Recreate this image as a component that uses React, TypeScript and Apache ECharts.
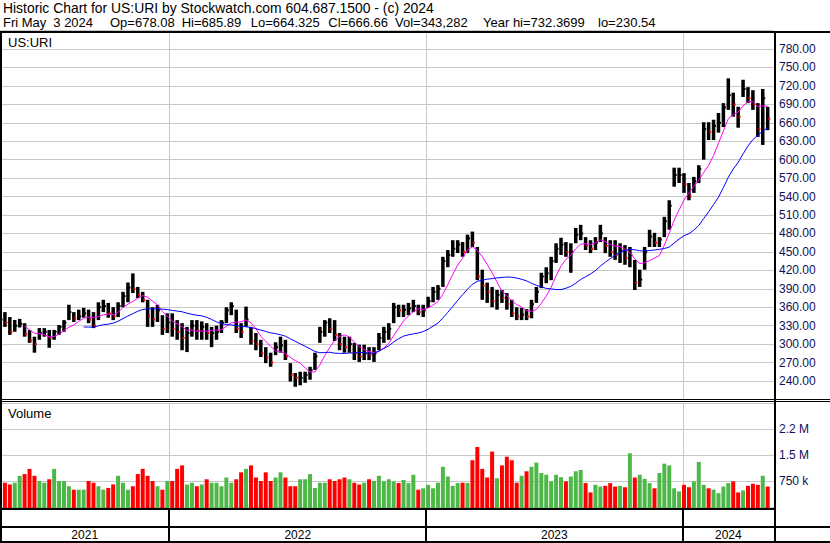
import { useEffect, useRef } from "react";
import * as echarts from "echarts";

// Weekly bars (week centres, Wednesdays) from the week of 2021-05-05 to the week of 2024-05-01
const FIRST_WEEK = Date.UTC(2021, 4, 5);
const WEEK_MS = 7 * 86400000;
const AXIS_START = Date.UTC(2021, 4, 5);
const AXIS_END = Date.UTC(2024, 4, 10);

const high = [
  356, 352, 344, 339, 341, 334, 323, 312, 326, 326,
  323, 323, 331, 339, 364, 352, 356, 359, 356, 352,
  368, 372, 367, 360, 368, 385, 400, 415, 393, 385,
  372, 360, 364, 347, 350, 350, 339, 334, 328, 339,
  339, 337, 334, 328, 330, 339, 360, 368, 356, 334,
  361, 328, 318, 307, 295, 286, 303, 312, 307, 269,
  253, 255, 255, 263, 286, 328, 339, 342, 339, 318,
  312, 312, 302, 299, 299, 295, 295, 318, 328, 334,
  367, 364, 364, 367, 372, 364, 364, 377, 393, 396,
  442, 453, 469, 469, 466, 478, 483, 458, 421, 400,
  393, 388, 388, 383, 372, 360, 359, 357, 372, 393,
  416, 425, 442, 464, 473, 466, 464, 489, 494, 474,
  469, 474, 494, 474, 469, 469, 464, 461, 458, 437,
  421, 458, 486, 481, 474, 507, 534, 587, 587, 578,
  562, 572, 591, 661, 661, 665, 676, 692, 732.37, 709,
  686, 730, 718, 713, 692, 715, 686,
];

const low = [
  331, 328, 315, 320, 327, 312, 302, 286, 307, 312,
  294, 307, 315, 320, 339, 336, 339, 343, 334, 326,
  339, 352, 343, 339, 344, 360, 368, 383, 375, 368,
  328, 328, 336, 315, 318, 312, 307, 290, 287, 312,
  307, 307, 307, 295, 307, 318, 334, 347, 318, 310,
  328, 299, 290, 279, 269, 263, 282, 286, 274, 239,
  230.54, 233, 237, 242, 258, 302, 312, 318, 305, 290,
  286, 286, 274, 271, 274, 274, 271, 290, 302, 307,
  334, 344, 344, 347, 352, 347, 344, 359, 368, 372,
  393, 425, 442, 448, 442, 448, 458, 404, 372, 367,
  360, 356, 367, 356, 344, 339, 339, 339, 342, 367,
  391, 399, 404, 432, 445, 442, 416, 464, 469, 453,
  448, 453, 466, 448, 442, 437, 432, 429, 425, 388,
  393, 421, 458, 458, 458, 474, 486, 556, 562, 546,
  534, 546, 562, 600, 632, 632, 644, 653, 681, 670,
  652, 702, 692, 681, 637, 624, 648,
];

const close = [
  340, 335, 320, 330, 333, 316, 306, 300, 318, 320,
  310, 320, 328, 335, 352, 342, 345, 350, 340, 330,
  360, 362, 350, 345, 362, 378, 392, 390, 380, 372,
  345, 340, 355, 325, 335, 325, 320, 310, 318, 330,
  322, 328, 318, 318, 320, 335, 355, 362, 325, 320,
  340, 305, 300, 285, 278, 270, 295, 298, 280, 250,
  245, 245, 250, 258, 280, 320, 335, 325, 315, 300,
  295, 300, 285, 280, 285, 282, 285, 310, 320, 325,
  360, 355, 356, 358, 362, 352, 355, 370, 385, 390,
  435, 445, 455, 462, 450, 472, 465, 410, 395, 385,
  370, 380, 375, 365, 350, 345, 348, 345, 365, 385,
  410, 415, 435, 455, 462, 450, 450, 478, 480, 460,
  455, 465, 480, 460, 450, 445, 452, 440, 445, 400,
  405, 450, 475, 465, 470, 500, 525, 575, 575, 560,
  540, 565, 585, 650, 645, 655, 660, 685, 705, 690,
  670, 715, 700, 690, 650, 700, 666.66,
];

// average daily volume per week, in thousands of shares
const volumeK = [
  730, 700, 650, 700, 900, 950, 1100, 900, 750, 700,
  800, 1100, 750, 750, 600, 500, 500, 500, 750, 700,
  600, 500, 550, 650, 900, 700, 500, 600, 950, 1100,
  900, 750, 600, 500, 750, 750, 1100, 1200, 650, 700,
  600, 650, 800, 700, 700, 600, 850, 700, 800, 1000,
  1100, 1200, 850, 750, 1000, 750, 850, 1000, 850, 600,
  600, 800, 800, 950, 550, 700, 700, 800, 750, 800,
  850, 800, 700, 650, 700, 800, 750, 900, 740, 800,
  740, 690, 780, 690, 930, 500, 540, 640, 540, 700,
  1160, 880, 610, 690, 700, 690, 1350, 1730, 1100, 850,
  1600, 830, 1200, 1450, 1350, 700, 900, 1030, 1160, 1280,
  980, 930, 740, 930, 860, 740, 880, 1030, 1070, 690,
  420, 640, 590, 610, 690, 590, 610, 570, 1550, 850,
  930, 810, 690, 540, 980, 1250, 1200, 540, 450, 640,
  570, 740, 1300, 640, 540, 500, 400, 590, 690, 740,
  420, 480, 610, 670, 640, 900, 590,
];

const yearLabels = ["2021", "2022", "2023", "2024"];
const yearStarts = [AXIS_START, Date.UTC(2022, 0, 1), Date.UTC(2023, 0, 1), Date.UTC(2024, 0, 1)];
const yearEnds = [Date.UTC(2022, 0, 1), Date.UTC(2023, 0, 1), Date.UTC(2024, 0, 1), AXIS_END];

const MA_SHORT = 6; // weeks (~30 days)
const MA_LONG = 18; // weeks (~90 days)

const FONT = "'Liberation Sans', Arial, sans-serif";
const AXIS_TEXT = "#10105a";
const GRID_GRAY = "#c8c8c8";
const UP_GREEN = "#4db848";
const DOWN_RED = "#ff0000";

const dates = close.map((_, i) => FIRST_WEEK + i * WEEK_MS);

function sma(vals: number[], n: number) {
  const out: number[][] = [];
  for (let i = n - 1; i < vals.length; i++) {
    let s = 0;
    for (let k = i - n + 1; k <= i; k++) s += vals[k];
    out.push([dates[i], s / n]);
  }
  return out;
}

function buildOption() {
  const priceData = dates.map((t, i) => [t, high[i], low[i], close[i], i > 0 ? close[i - 1] : close[i]]);
  const volData = dates.map((t, i) => [t, volumeK[i] * 1000, i === 0 || close[i] >= close[i - 1] ? 1 : 0]);
  const sepData = yearStarts.slice(1).map((t) => [t]);
  const bandData = yearStarts.map((t, i) => [t, yearEnds[i]]);

  const sepSeries = (idx: number) => ({
    type: "custom",
    xAxisIndex: idx,
    yAxisIndex: idx,
    z: 1,
    silent: true,
    data: sepData,
    encode: { x: 0 },
    renderItem: (params: any, api: any) => {
      const cs = params.coordSys;
      const p = api.coord([api.value(0), 0]);
      const x = Math.round(p[0]) + 0.5;
      return {
        type: "line",
        shape: { x1: x, y1: cs.y, x2: x, y2: cs.y + cs.height },
        style: { stroke: GRID_GRAY, lineWidth: 1 },
      };
    },
  });

  const text = (x: number, y: number, s: string, size = 13, color = "#000") => ({
    type: "text",
    x,
    y,
    z: 110,
    silent: true,
    style: {
      text: s,
      fill: color,
      font: `${size}px ${FONT}`,
      textAlign: "left",
      textVerticalAlign: "middle",
      align: "left",
      verticalAlign: "middle",
    },
  });
  const bar = (x: number, y: number, w: number, h: number) => ({
    type: "rect",
    z: 100,
    silent: true,
    shape: { x, y, width: w, height: h },
    style: { fill: "#000" },
  });

  return {
    animation: false,
    backgroundColor: "#ffffff",
    grid: [
      { left: 0, top: 30.6, width: 774, height: 368.8 },
      { left: 0, top: 403, width: 774, height: 104 },
      { left: 0, top: 509, width: 774, height: 34 },
    ],
    xAxis: [0, 1, 2].map((i) => ({
      type: "time",
      gridIndex: i,
      min: AXIS_START,
      max: AXIS_END,
      show: false,
    })),
    yAxis: [
      {
        type: "value",
        gridIndex: 0,
        position: "right",
        min: 210,
        max: 810,
        interval: 30,
        axisLine: { show: false },
        axisTick: { show: false },
        axisLabel: {
          margin: 5,
          color: AXIS_TEXT,
          fontSize: 12,
          fontFamily: FONT,
          formatter: (v: number) => (v < 240 || v > 780 ? "" : v.toFixed(2)),
        },
        splitLine: { lineStyle: { color: GRID_GRAY, width: 1 } },
      },
      {
        type: "value",
        gridIndex: 1,
        position: "right",
        min: 0,
        max: 3000000,
        interval: 750000,
        axisLine: { show: false },
        axisTick: { show: false },
        axisLabel: {
          margin: 5,
          color: AXIS_TEXT,
          fontSize: 12,
          fontFamily: FONT,
          formatter: (v: number) =>
            v === 750000 ? "750 k" : v === 1500000 ? "1.5 M" : v === 2250000 ? "2.2 M" : "",
        },
        splitLine: { lineStyle: { color: GRID_GRAY, width: 1 } },
      },
      { type: "value", gridIndex: 2, min: 0, max: 1, show: false },
    ],
    series: [
      sepSeries(0),
      sepSeries(1),
      {
        type: "custom",
        name: "US:URI",
        xAxisIndex: 0,
        yAxisIndex: 0,
        z: 3,
        data: priceData,
        encode: { x: 0, y: [1, 2, 3] },
        renderItem: (params: any, api: any) => {
          const t = api.value(0);
          const hi = api.coord([t, api.value(1)]);
          const lo = api.coord([t, api.value(2)]);
          const cl = api.coord([t, api.value(3)]);
          const down = api.value(3) < api.value(4);
          const x = hi[0];
          return {
            type: "group",
            children: [
              {
                type: "rect",
                shape: { x: x - 1.75, y: hi[1], width: 3.5, height: Math.max(1, lo[1] - hi[1]) },
                style: { fill: "#000" },
              },
              {
                type: "rect",
                shape: { x: x + 0.5, y: cl[1] - 1, width: 2, height: 2 },
                style: { fill: down ? DOWN_RED : "#000" },
              },
            ],
          };
        },
      },
      {
        type: "line",
        name: "MA short",
        xAxisIndex: 0,
        yAxisIndex: 0,
        z: 4,
        data: sma(close, MA_SHORT),
        showSymbol: false,
        symbol: "none",
        lineStyle: { color: "#ff00ff", width: 1 },
      },
      {
        type: "line",
        name: "MA long",
        xAxisIndex: 0,
        yAxisIndex: 0,
        z: 4,
        data: sma(close, MA_LONG),
        showSymbol: false,
        symbol: "none",
        lineStyle: { color: "#0000ff", width: 1 },
      },
      {
        type: "custom",
        name: "Volume",
        xAxisIndex: 1,
        yAxisIndex: 1,
        z: 3,
        data: volData,
        encode: { x: 0, y: 1 },
        renderItem: (params: any, api: any) => {
          const t = api.value(0);
          const top = api.coord([t, api.value(1)]);
          const base = api.coord([t, 0]);
          return {
            type: "rect",
            shape: { x: top[0] - 2, y: top[1], width: 4, height: base[1] - top[1] + 1 },
            style: { fill: api.value(2) ? UP_GREEN : DOWN_RED },
          };
        },
      },
      {
        type: "custom",
        name: "Years",
        xAxisIndex: 2,
        yAxisIndex: 2,
        z: 5,
        silent: true,
        data: bandData,
        encode: { x: [0, 1] },
        renderItem: (params: any, api: any) => {
          const cs = params.coordSys;
          const s = api.coord([api.value(0), 0]);
          const e = api.coord([api.value(1), 0]);
          const children: any[] = [
            {
              type: "text",
              x: (s[0] + e[0]) / 2,
              y: cs.y + cs.height - 8,
              style: {
                text: yearLabels[params.dataIndex],
                fill: "#000",
                font: `12px ${FONT}`,
                textAlign: "center",
                textVerticalAlign: "middle",
                align: "center",
                verticalAlign: "middle",
              },
            },
          ];
          if (params.dataIndex > 0) {
            const x = Math.round(s[0]) - 1;
            children.push({
              type: "rect",
              shape: { x, y: cs.y, width: 2, height: cs.height },
              style: { fill: "#000" },
            });
          }
          return { type: "group", children };
        },
      },
    ],
    graphic: [
      text(3, 8, "Historic Chart for US:URI by Stockwatch.com 604.687.1500 - (c) 2024", 13.9),
      text(3, 22, "Fri May"),
      text(53.3, 22, "3 2024"),
      text(110, 22, "Op=678.08"),
      text(181.7, 22, "Hi=685.89"),
      text(250.7, 22, "Lo=664.325"),
      text(328.3, 22, "Cl=666.66"),
      text(395, 22, "Vol=343,282"),
      text(483, 22, "Year hi=732.3699"),
      text(598, 22, "lo=230.54"),
      text(8, 42, "US:URI"),
      text(8, 413, "Volume"),
      bar(0, 31, 830, 2),
      bar(0, 399, 830, 1),
      bar(0, 401, 830, 1),
      bar(0, 508, 774, 2),
      bar(0, 526, 830, 2),
      bar(0, 541, 830, 2),
      bar(774, 31, 2, 512),
      bar(0, 31, 2, 512),
    ],
  };
}

export default function App() {
  const ref = useRef<HTMLDivElement>(null);
  useEffect(() => {
    if (!ref.current) return;
    const chart = echarts.init(ref.current, null, { renderer: "svg" });
    chart.setOption(buildOption() as any);
    return () => chart.dispose();
  }, []);
  return (
    <div
      ref={ref}
      style={{ position: "fixed", left: 0, top: 0, width: 830, height: 543, background: "#fff" }}
    />
  );
}
